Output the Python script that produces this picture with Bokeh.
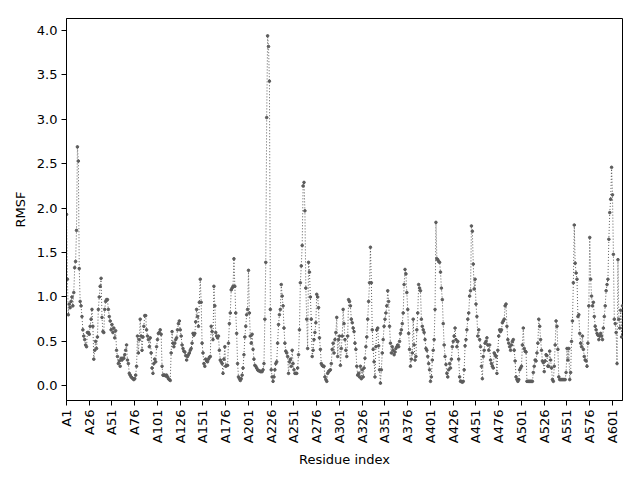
import math
from bokeh.plotting import figure
from bokeh.models import FixedTicker, Range1d, ColumnDataSource
from bokeh.embed import file_html
from bokeh.resources import INLINE

# RMSF per residue (residues A1 .. A612)
rmsf = [
    1.93, 1.20, 0.80, 0.92, 0.88, 0.95, 1.00, 0.90, 1.05, 1.33,
    1.40, 1.75, 2.69, 2.53, 1.32, 0.95, 0.90, 0.78, 0.63, 0.56,
    0.52, 0.46, 0.44, 0.60, 0.60, 0.58, 0.67, 0.75, 0.86, 0.67,
    0.30, 0.40, 0.50, 0.42, 0.55, 0.86, 1.00, 1.12, 1.21, 0.77,
    0.61, 0.60, 0.86, 0.95, 0.97, 0.97, 0.86, 0.78, 0.73, 0.63,
    0.69, 0.60, 0.65, 0.54, 0.62, 0.40, 0.33, 0.25, 0.28, 0.22,
    0.31, 0.29, 0.31, 0.31, 0.35, 0.40, 0.46, 0.29, 0.25, 0.14,
    0.12, 0.10, 0.09, 0.08, 0.07, 0.08, 0.12, 0.22, 0.56, 0.37,
    0.52, 0.75, 0.56, 0.40, 0.55, 0.67, 0.79, 0.79, 0.63, 0.56,
    0.52, 0.44, 0.54, 0.37, 0.20, 0.14, 0.25, 0.30, 0.27, 0.44,
    0.52, 0.59, 0.60, 0.63, 0.58, 0.22, 0.12, 0.12, 0.12, 0.11,
    0.12, 0.10, 0.08, 0.07, 0.06, 0.37, 0.61, 0.48, 0.44, 0.48,
    0.52, 0.54, 0.63, 0.70, 0.73, 0.63, 0.56, 0.46, 0.42, 0.39,
    0.38, 0.34, 0.29, 0.33, 0.35, 0.37, 0.40, 0.42, 0.48, 0.59,
    0.57, 0.59, 0.72, 0.86, 0.78, 0.67, 0.94, 1.20, 0.94, 0.48,
    0.37, 0.25, 0.22, 0.30, 0.28, 0.27, 0.30, 0.32, 0.33, 0.67,
    0.61, 0.52, 1.12, 0.90, 0.60, 0.56, 0.54, 0.56, 0.40, 0.29,
    0.27, 0.25, 0.14, 0.30, 0.44, 0.22, 0.23, 0.23, 0.48, 0.70,
    0.82, 1.08, 1.10, 1.12, 1.43, 1.12, 0.82, 0.59, 0.25, 0.10,
    0.08, 0.06, 0.08, 0.12, 0.20, 0.35, 0.55, 0.67, 0.80, 0.86,
    1.30, 0.82, 0.56, 0.48, 0.58, 0.41, 0.30, 0.23, 0.22, 0.20,
    0.18, 0.17, 0.17, 0.16, 0.16, 0.16, 0.18, 0.25, 0.75, 1.39,
    3.02, 3.94, 3.82, 3.43, 0.86, 0.18, 0.10, 0.05, 0.10, 0.18,
    0.25, 0.27, 0.48, 0.69, 0.80, 0.86, 1.14, 1.01, 0.90, 0.65,
    0.48, 0.39, 0.37, 0.33, 0.14, 0.27, 0.30, 0.22, 0.40, 0.25,
    0.18, 0.14, 0.14, 0.14, 0.20, 0.35, 0.63, 1.16, 1.35, 1.58,
    2.25, 2.29, 1.97, 1.10, 0.75, 0.42, 1.39, 1.28, 1.00, 0.75,
    0.33, 0.40, 0.52, 0.60, 0.71, 1.03, 1.00, 0.88, 0.54, 0.41,
    0.25, 0.23, 0.22, 0.22, 0.10, 0.07, 0.05, 0.14, 0.16, 0.17,
    0.18, 0.25, 0.41, 0.48, 0.37, 0.52, 0.60, 0.77, 0.33, 0.52,
    0.56, 0.23, 0.42, 0.56, 0.86, 0.70, 0.52, 0.40, 0.33, 0.56,
    0.97, 0.95, 0.90, 0.75, 0.71, 0.65, 0.61, 0.48, 0.41, 0.22,
    0.12, 0.14, 0.10, 0.22, 0.08, 0.18, 0.10, 0.20, 0.31, 0.44,
    0.55, 0.75, 0.95, 1.16, 1.56, 1.16, 0.63, 0.41, 0.27, 0.10,
    0.44, 0.63, 0.65, 0.45, 0.18, 0.03, 0.18, 0.37, 0.52, 0.67,
    0.75, 0.82, 0.90, 1.07, 0.95, 0.67, 0.48, 0.37, 0.44, 0.40,
    0.35, 0.38, 0.42, 0.44, 0.46, 0.44, 0.50, 0.59, 0.63, 0.70,
    0.82, 1.14, 1.31, 1.26, 1.05, 0.86, 0.59, 0.41, 0.22, 0.30,
    0.37, 0.75, 0.46, 0.29, 0.33, 0.63, 0.82, 1.14, 1.10, 1.07,
    0.75, 0.67, 0.63, 0.60, 0.52, 0.42, 0.40, 0.33, 0.25, 0.18,
    0.05, 0.10, 0.29, 0.40, 0.52, 0.86, 1.84, 1.43, 1.42, 1.40,
    1.39, 1.28, 1.10, 0.97, 0.70, 0.46, 0.33, 0.24, 0.14, 0.10,
    0.18, 0.25, 0.20, 0.30, 0.44, 0.50, 0.56, 0.65, 0.52, 0.44,
    0.50, 0.30, 0.10, 0.05, 0.05, 0.04, 0.05, 0.18, 0.45, 0.52,
    0.63, 0.75, 0.82, 1.01, 1.07, 1.80, 1.74, 1.37, 1.09, 1.20,
    0.92, 0.78, 0.56, 0.63, 0.52, 0.44, 0.22, 0.08, 0.33, 0.40,
    0.48, 0.50, 0.54, 0.46, 0.40, 0.46, 0.29, 0.25, 0.22, 0.20,
    0.37, 0.35, 0.33, 0.14, 0.40, 0.56, 0.63, 0.61, 0.63, 0.71,
    0.73, 0.75, 0.90, 0.92, 0.67, 0.52, 0.48, 0.44, 0.40, 0.46,
    0.50, 0.52, 0.40, 0.28, 0.10, 0.07, 0.05, 0.07, 0.18, 0.20,
    0.22, 0.46, 0.65, 0.42, 0.39, 0.38, 0.05, 0.05, 0.05, 0.05,
    0.05, 0.05, 0.05, 0.15, 0.22, 0.29, 0.28, 0.37, 0.48, 0.75,
    0.67, 0.52, 0.40, 0.28, 0.26, 0.16, 0.28, 0.35, 0.34, 0.22,
    0.22, 0.39, 0.29, 0.20, 0.07, 0.05, 0.22, 0.46, 0.73, 0.67,
    0.41, 0.10, 0.07, 0.07, 0.07, 0.07, 0.07, 0.07, 0.07, 0.15,
    0.42, 0.29, 0.42, 0.07, 0.15, 0.50, 0.73, 1.16, 1.81, 1.38,
    1.27, 1.20, 0.78, 0.80, 0.59, 0.48, 0.44, 0.56, 0.41, 0.33,
    0.29, 0.28, 0.22, 0.48, 0.90, 1.67, 1.20, 1.01, 0.90, 0.94,
    0.78, 0.67, 0.63, 0.59, 0.57, 0.52, 0.56, 0.59, 0.56, 0.52,
    0.65, 0.78, 0.90, 1.07, 1.14, 1.20, 1.65, 1.95, 2.10, 2.46,
    2.15, 1.48, 0.75, 0.70, 0.60, 0.25, 1.42, 0.75, 0.65, 0.85,
    0.55, 0.90,
]
residue_index = list(range(len(rmsf)))
tick_positions = list(range(0, len(rmsf), 25))
tick_labels = ["A%d" % (t + 1) for t in tick_positions]
y_ticks = [0.0, 0.5, 1.0, 1.5, 2.0, 2.5, 3.0, 3.5, 4.0]
y_tick_labels = ["%.1f" % v for v in y_ticks]

FONT = "DejaVu Sans"
COLOR = "#5c5c5c"

ymin, ymax = min(rmsf), max(rmsf)
pad = (ymax - ymin) * 0.05

p = figure(
    frame_width=556, frame_height=382,
    min_border_left=66, min_border_right=18,
    min_border_top=18, min_border_bottom=80,
    x_range=Range1d(0, len(rmsf) - 1),
    y_range=Range1d(ymin - pad, ymax + pad),
    output_backend="svg", toolbar_location=None,
)
p.background_fill_color = "white"
p.border_fill_color = "white"
p.outline_line_color = "black"
p.outline_line_width = 1
p.xgrid.visible = False
p.ygrid.visible = False

src = ColumnDataSource(dict(x=residue_index, y=rmsf))
p.line("x", "y", source=src, line_color=COLOR, line_width=1.0, line_dash="1 2")
p.scatter("x", "y", source=src, size=2.6, fill_color=COLOR, line_color=COLOR)

p.xaxis.ticker = FixedTicker(ticks=tick_positions)
p.xaxis.major_label_overrides = {t: l for t, l in zip(tick_positions, tick_labels)}
p.xaxis.major_label_orientation = math.pi / 2
p.yaxis.ticker = FixedTicker(ticks=y_ticks)
p.yaxis.major_label_overrides = {t: l for t, l in zip(y_ticks, y_tick_labels)}

p.xaxis.axis_label = "Residue index"
p.yaxis.axis_label = "RMSF"
for ax in (p.xaxis, p.yaxis):
    ax.axis_line_color = "black"
    ax.major_tick_line_color = "black"
    ax.major_tick_out = 5
    ax.major_tick_in = 0
    ax.minor_tick_line_color = None
    ax.major_label_text_font = FONT
    ax.major_label_text_font_size = "13px"
    ax.major_label_text_color = "black"
    ax.major_label_standoff = 4
    ax.axis_label_text_font = FONT
    ax.axis_label_text_font_size = "13px"
    ax.axis_label_text_font_style = "normal"
    ax.axis_label_text_color = "black"
    ax.axis_label_standoff = 6

open("out.html", "w").write(file_html(p, INLINE))
